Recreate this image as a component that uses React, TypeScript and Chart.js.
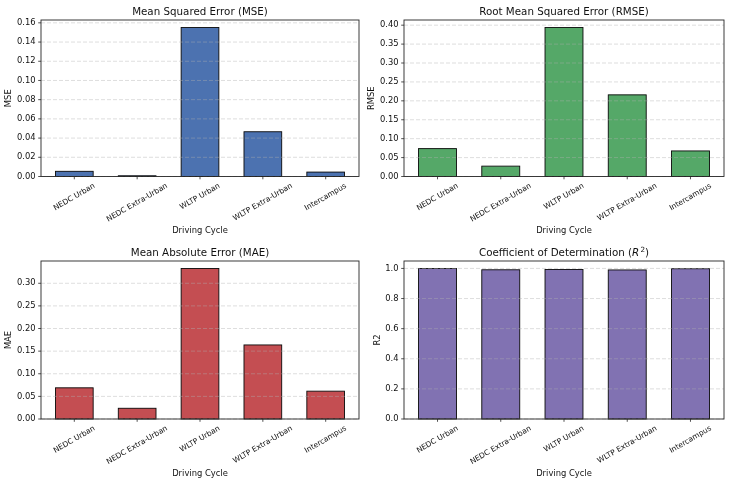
import React, { useEffect, useRef } from "react";
import { Chart, registerables } from "chart.js";

Chart.register(...registerables);

const categories = ["NEDC Urban", "NEDC Extra-Urban", "WLTP Urban", "WLTP Extra-Urban", "Intercampus"];

const mseValues = [0.0054, 0.00075, 0.1552, 0.0466, 0.0046];
const rmseValues = [0.0737, 0.0274, 0.394, 0.2158, 0.0676];
const maeValues = [0.0689, 0.0237, 0.3326, 0.1637, 0.0615];
const r2Values = [0.9994, 0.991, 0.993, 0.99, 0.998];

const mseTicks = [0, 0.02, 0.04, 0.06, 0.08, 0.1, 0.12, 0.14, 0.16];
const rmseTicks = [0, 0.05, 0.1, 0.15, 0.2, 0.25, 0.3, 0.35, 0.4];
const maeTicks = [0, 0.05, 0.1, 0.15, 0.2, 0.25, 0.3];
const r2Ticks = [0, 0.2, 0.4, 0.6, 0.8, 1.0];

const FONT = "DejaVu Sans";

type TitlePart = { text: string; italic?: boolean; sup?: boolean };

type PanelSpec = {
  key: string;
  left: number;
  top: number;
  w: number;
  h: number;
  area: { l: number; t: number; r: number; b: number };
  values: number[];
  ticks: number[];
  decimals: number;
  color: string;
  title: TitlePart[];
  yLabel: string;
};

const panels: PanelSpec[] = [
  {
    key: "mse", left: 0, top: 0, w: 364, h: 242,
    area: { l: 41, t: 20, r: 359, b: 176.5 },
    values: mseValues, ticks: mseTicks, decimals: 2, color: "#4C72B0",
    title: [{ text: "Mean Squared Error (MSE)" }], yLabel: "MSE",
  },
  {
    key: "rmse", left: 364, top: 0, w: 365, h: 242,
    area: { l: 40, t: 20, r: 360, b: 176.5 },
    values: rmseValues, ticks: rmseTicks, decimals: 2, color: "#55A868",
    title: [{ text: "Root Mean Squared Error (RMSE)" }], yLabel: "RMSE",
  },
  {
    key: "mae", left: 0, top: 242, w: 364, h: 243,
    area: { l: 41, t: 19, r: 359, b: 177 },
    values: maeValues, ticks: maeTicks, decimals: 2, color: "#C44E52",
    title: [{ text: "Mean Absolute Error (MAE)" }], yLabel: "MAE",
  },
  {
    key: "r2", left: 364, top: 242, w: 365, h: 243,
    area: { l: 40, t: 19, r: 360, b: 177 },
    values: r2Values, ticks: r2Ticks, decimals: 1, color: "#8172B2",
    title: [
      { text: "Coefficient of Determination (" },
      { text: "R", italic: true },
      { text: "2", sup: true },
      { text: ")" },
    ],
    yLabel: "R2",
  },
];

const TICK_FS = 8.4;
const XTICK_FS = 7.5;
const LABEL_FS = 8.4;
const TITLE_FS = 10.3;
const TICK_LEN = 2.8;
const TICK_PAD = 2.6;

function makeDecor(spec: PanelSpec) {
  return {
    id: "decor_" + spec.key,
    afterDatasetsDraw(chart: any) {
      const { ctx, chartArea: a, scales } = chart;
      const ys = scales.y;
      const xs = scales.x;
      ctx.save();
      // bar edges, centred on the bar outline like matplotlib
      const meta = chart.getDatasetMeta(0);
      ctx.strokeStyle = "#0a0a0a";
      ctx.lineWidth = 0.9;
      meta.data.forEach((el: any) => {
        const p = el.getProps(["x", "y", "base", "width"], true);
        const x0 = p.x - p.width / 2;
        const top = Math.min(p.y, p.base);
        const hgt = Math.abs(p.base - p.y);
        ctx.strokeRect(x0, top, p.width, hgt);
      });
      // grid above bars (matplotlib axisbelow='line')
      ctx.strokeStyle = "rgba(176,176,176,0.6)";
      ctx.lineWidth = 0.7;
      ctx.setLineDash([4, 2]);
      for (const t of spec.ticks) {
        const py = ys.getPixelForValue(t);
        ctx.beginPath();
        ctx.moveTo(a.left, py);
        ctx.lineTo(a.right, py);
        ctx.stroke();
      }
      ctx.setLineDash([]);
      // frame
      ctx.strokeStyle = "#262626";
      ctx.lineWidth = 0.9;
      ctx.strokeRect(a.left, a.top, a.right - a.left, a.bottom - a.top);
      // tick marks
      ctx.lineWidth = 0.8;
      for (const t of spec.ticks) {
        const py = ys.getPixelForValue(t);
        ctx.beginPath();
        ctx.moveTo(a.left - TICK_LEN, py);
        ctx.lineTo(a.left, py);
        ctx.stroke();
      }
      categories.forEach((_, i) => {
        const px = xs.getPixelForValue(i);
        ctx.beginPath();
        ctx.moveTo(px, a.bottom);
        ctx.lineTo(px, a.bottom + TICK_LEN);
        ctx.stroke();
      });
      // x tick labels, rotated 30deg, centered bbox
      ctx.fillStyle = "#111";
      ctx.font = `${XTICK_FS}px "${FONT}"`;
      ctx.textAlign = "center";
      ctx.textBaseline = "middle";
      const ang = (30 * Math.PI) / 180;
      const th = XTICK_FS * 1.1;
      categories.forEach((lab, i) => {
        const px = xs.getPixelForValue(i);
        const w = ctx.measureText(lab).width;
        const bh = w * Math.sin(ang) + th * Math.cos(ang);
        const cy = a.bottom + TICK_LEN + TICK_PAD + bh / 2;
        ctx.save();
        ctx.translate(px, cy);
        ctx.rotate(-ang);
        ctx.fillText(lab, 0, 0);
        ctx.restore();
      });
      // x axis label
      ctx.font = `${LABEL_FS}px "${FONT}"`;
      ctx.textBaseline = "middle";
      ctx.fillText("Driving Cycle", (a.left + a.right) / 2, a.bottom + 54.5);
      // y axis label
      ctx.font = `${TICK_FS}px "${FONT}"`;
      let maxW = 0;
      for (const t of spec.ticks) {
        maxW = Math.max(maxW, ctx.measureText(t.toFixed(spec.decimals)).width);
      }
      const lx = a.left - TICK_LEN - TICK_PAD - maxW - 3.2 - LABEL_FS * 0.55;
      ctx.font = `${LABEL_FS}px "${FONT}"`;
      ctx.save();
      ctx.translate(lx, (a.top + a.bottom) / 2);
      ctx.rotate(-Math.PI / 2);
      ctx.fillText(spec.yLabel, 0, 0);
      ctx.restore();
      // title
      ctx.textBaseline = "alphabetic";
      ctx.textAlign = "left";
      const fontFor = (p: TitlePart) =>
        `${p.italic ? "oblique " : ""}${p.sup ? TITLE_FS * 0.7 : TITLE_FS}px "${FONT}"`;
      let total = 0;
      const widths = spec.title.map((p) => {
        ctx.font = fontFor(p);
        const wd = ctx.measureText(p.text).width + (p.sup ? 0.8 : 0) + (p.italic ? 0.4 : 0);
        total += wd;
        return wd;
      });
      let tx = (a.left + a.right) / 2 - total / 2;
      const base = a.top - 5;
      spec.title.forEach((p, i) => {
        ctx.font = fontFor(p);
        ctx.fillText(p.text, tx + (p.sup ? 0.8 : 0), p.sup ? base - TITLE_FS * 0.38 : base);
        tx += widths[i];
      });
      ctx.restore();
    },
  };
}

function Panel({ spec }: { spec: PanelSpec }) {
  const ref = useRef<HTMLCanvasElement | null>(null);
  useEffect(() => {
    if (!ref.current) return;
    const maxV = Math.max(...spec.values) * 1.05;
    const chart = new Chart(ref.current, {
      type: "bar",
      data: {
        datasets: [
          {
            data: spec.values.map((v, i) => ({ x: i, y: v })),
            backgroundColor: spec.color,
            borderWidth: 0,
            barPercentage: 0.6,
            categoryPercentage: 1,
          },
        ],
      },
      options: {
        responsive: false,
        animation: false,
        layout: {
          padding: {
            left: 0,
            top: spec.area.t,
            right: spec.w - spec.area.r,
            bottom: spec.h - spec.area.b,
          },
        },
        plugins: {
          legend: { display: false },
          title: { display: false },
          tooltip: { enabled: false },
        },
        scales: {
          x: {
            type: "linear",
            display: false,
            min: -0.53,
            max: categories.length - 1 + 0.53,
            offset: false,
          },
          y: {
            type: "linear",
            display: true,
            position: "left",
            min: 0,
            max: maxV,
            grid: { display: false, drawTicks: false },
            border: { display: false },
            ticks: {
              padding: TICK_LEN + TICK_PAD,
              color: "#111",
              font: { family: FONT, size: TICK_FS },
              callback: (v: any) => Number(v).toFixed(spec.decimals),
            },
            afterBuildTicks: (s: any) => {
              s.ticks = spec.ticks.map((v) => ({ value: v }));
            },
            afterFit: (s: any) => {
              s.width = spec.area.l;
            },
          },
        },
      } as any,
      plugins: [makeDecor(spec)],
    });
    return () => chart.destroy();
  }, [spec]);
  return (
    <div style={{ position: "absolute", left: spec.left, top: spec.top, width: spec.w, height: spec.h }}>
      <canvas ref={ref} width={spec.w} height={spec.h} style={{ width: spec.w, height: spec.h, display: "block" }} />
    </div>
  );
}

export default function App() {
  return (
    <div style={{ position: "absolute", left: 0, top: 0, width: 729, height: 485, background: "#fff", fontFamily: FONT }}>
      {panels.map((p) => (
        <Panel key={p.key} spec={p} />
      ))}
    </div>
  );
}
